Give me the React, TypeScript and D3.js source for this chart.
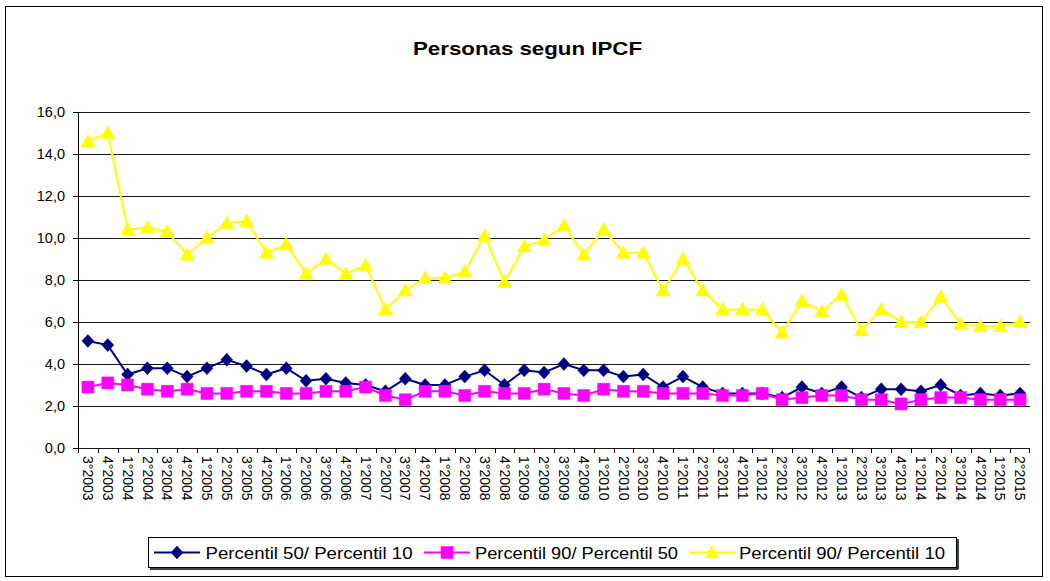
import React from 'react';
import * as d3 from 'd3';

// Trimestres (eje x)
const periodos = [
  '3°2003', '4°2003',
  '1°2004', '2°2004', '3°2004', '4°2004',
  '1°2005', '2°2005', '3°2005', '4°2005',
  '1°2006', '2°2006', '3°2006', '4°2006',
  '1°2007', '2°2007', '3°2007', '4°2007',
  '1°2008', '2°2008', '3°2008', '4°2008',
  '1°2009', '2°2009', '3°2009', '4°2009',
  '1°2010', '2°2010', '3°2010', '4°2010',
  '1°2011', '2°2011', '3°2011', '4°2011',
  '1°2012', '2°2012', '3°2012', '4°2012',
  '1°2013', '2°2013', '3°2013', '4°2013',
  '1°2014', '2°2014', '3°2014', '4°2014',
  '1°2015', '2°2015',
];

const p50p10 = [
  5.1, 4.9,
  3.5, 3.8, 3.8, 3.4,
  3.8, 4.2, 3.9, 3.5,
  3.8, 3.2, 3.3, 3.1,
  3.0, 2.7, 3.3, 3.0,
  3.0, 3.4, 3.7, 3.0,
  3.7, 3.6, 4.0, 3.7,
  3.7, 3.4, 3.5, 2.9,
  3.4, 2.9, 2.6, 2.6,
  2.6, 2.4, 2.9, 2.6,
  2.9, 2.4, 2.8, 2.8,
  2.7, 3.0, 2.5, 2.6,
  2.5, 2.6,
];

const p90p50 = [
  2.9, 3.1,
  3.0, 2.8, 2.7, 2.8,
  2.6, 2.6, 2.7, 2.7,
  2.6, 2.6, 2.7, 2.7,
  2.9, 2.5, 2.3, 2.7,
  2.7, 2.5, 2.7, 2.6,
  2.6, 2.8, 2.6, 2.5,
  2.8, 2.7, 2.7, 2.6,
  2.6, 2.6, 2.5, 2.5,
  2.6, 2.3, 2.4, 2.5,
  2.5, 2.3, 2.3, 2.1,
  2.3, 2.4, 2.4, 2.3,
  2.3, 2.3,
];

const p90p10 = [
  14.6, 15.0,
  10.4, 10.5, 10.3, 9.2,
  10.0, 10.7, 10.8, 9.3,
  9.7, 8.3, 9.0, 8.3,
  8.7, 6.6, 7.5, 8.1,
  8.1, 8.4, 10.1, 7.9,
  9.6, 9.9, 10.6, 9.2,
  10.4, 9.3, 9.3, 7.5,
  9.0, 7.5, 6.6, 6.6,
  6.6, 5.5, 7.0, 6.5,
  7.3, 5.6, 6.6, 6.0,
  6.0, 7.2, 5.9, 5.8,
  5.8, 6.0,
];

const yTicks = [0, 2, 4, 6, 8, 10, 12, 14, 16];

const series = [
  { name: 'Percentil 50/ Percentil 10', values: p50p10, color: '#000080', marker: 'diamond' },
  { name: 'Percentil 90/ Percentil 50', values: p90p50, color: '#FF00FF', marker: 'square' },
  { name: 'Percentil 90/ Percentil 10', values: p90p10, color: '#FFFF00', marker: 'triangle' },
];

const W = 1050;
const H = 581;
const margin = { top: 112, right: 20, bottom: 133, left: 78 };
const font = 'Arial, "Liberation Sans", sans-serif';

// marker shapes, in px around the point
const markerPath = (m: string) => {
  if (m === 'diamond') return 'M0,-6.5L6,0L0,6.5L-6,0Z';
  if (m === 'square') return 'M-6,-6H6V6H-6Z';
  return 'M0,-7L7,5.5H-7Z';
};

const Marker = ({ m, color, x, y }: { m: string; color: string; x: number; y: number }) => (
  <path d={markerPath(m)} transform={`translate(${x},${y})`} fill={color} stroke={color} strokeWidth={0.5} />
);

export default function App() {
  const x = d3
    .scaleBand<string>()
    .domain(periodos)
    .range([margin.left, W - margin.right]);
  const y = d3
    .scaleLinear()
    .domain([0, 16])
    .range([H - margin.bottom, margin.top]);
  const cx = (p: string) => (x(p) as number) + x.bandwidth() / 2;
  const fmt = (v: number) => v.toFixed(1).replace('.', ',');

  const line = d3
    .line<number>()
    .x((_, i) => cx(periodos[i]))
    .y((v) => y(v));

  const y0 = y(0);
  const legendItems = [
    { lx: 154, tx: 205.5, tw: 207 },
    { lx: 424, tx: 475, tw: 203 },
    { lx: 689, tx: 739, tw: 206 },
  ];

  return (
    <svg width={W} height={H} style={{ position: 'absolute', left: 0, top: 0, background: '#fff' }}>
      <rect x={5.5} y={6.5} width={1037} height={570} fill="#fff" stroke="#000" />
      <text
        x={413}
        y={55}
        textLength={229}
        lengthAdjust="spacingAndGlyphs"
        fontFamily={font}
        fontWeight="bold"
        fontSize={18.5}
      >
        Personas segun IPCF
      </text>

      {/* grid + eje y */}
      {yTicks.map((t) => (
        <g key={t}>
          <line x1={margin.left} x2={W - margin.right} y1={y(t) + 0.5} y2={y(t) + 0.5} stroke="#1a1a1a" />
          <line x1={margin.left - 5} x2={margin.left} y1={y(t) + 0.5} y2={y(t) + 0.5} stroke="#000" />
          <text x={65} y={y(t)} dy="0.35em" textAnchor="end" fontFamily={font} fontSize={14.5}>
            {fmt(t)}
          </text>
        </g>
      ))}
      <line x1={margin.left + 0.5} x2={margin.left + 0.5} y1={margin.top} y2={y0 + 1} stroke="#000" />

      {/* eje x */}
      {periodos.map((p, i) => (
        <g key={p}>
          <line
            x1={Math.round(x(p) as number) + 0.5}
            x2={Math.round(x(p) as number) + 0.5}
            y1={y0}
            y2={y0 + 5}
            stroke="#000"
          />
          <text
            transform={`translate(${cx(p)},${y0 + 8}) rotate(90)`}
            dy="0.35em"
            fontFamily={font}
            fontSize={14}
          >
            {p}
          </text>
          {i === periodos.length - 1 && (
            <line x1={W - margin.right - 0.5} x2={W - margin.right - 0.5} y1={y0} y2={y0 + 5} stroke="#000" />
          )}
        </g>
      ))}

      {/* series */}
      {series.map((s) => (
        <g key={s.name}>
          <path d={line(s.values) || ''} fill="none" stroke={s.color} strokeWidth={2} />
          {s.values.map((v, i) => (
            <Marker key={i} m={s.marker} color={s.color} x={cx(periodos[i])} y={y(v)} />
          ))}
        </g>
      ))}

      {/* leyenda */}
      <rect x={148.5} y={537.5} width={808} height={30} fill="#fff" stroke="#000" />
      <line x1={150} x2={958} y1={569} y2={569} stroke="#000" strokeWidth={1.5} />
      <line x1={958} x2={958} y1={539} y2={569} stroke="#000" strokeWidth={1.5} />
      {series.map((s, i) => (
        <g key={s.name}>
          <line
            x1={legendItems[i].lx}
            x2={legendItems[i].lx + 46}
            y1={552.5}
            y2={552.5}
            stroke={s.color}
            strokeWidth={2}
          />
          <Marker m={s.marker} color={s.color} x={legendItems[i].lx + 23} y={552.5} />
          <text
            x={legendItems[i].tx}
            y={553}
            dy="0.35em"
            textLength={legendItems[i].tw}
            lengthAdjust="spacingAndGlyphs"
            fontFamily={font}
            fontSize={16.5}
          >
            {s.name}
          </text>
        </g>
      ))}
    </svg>
  );
}
